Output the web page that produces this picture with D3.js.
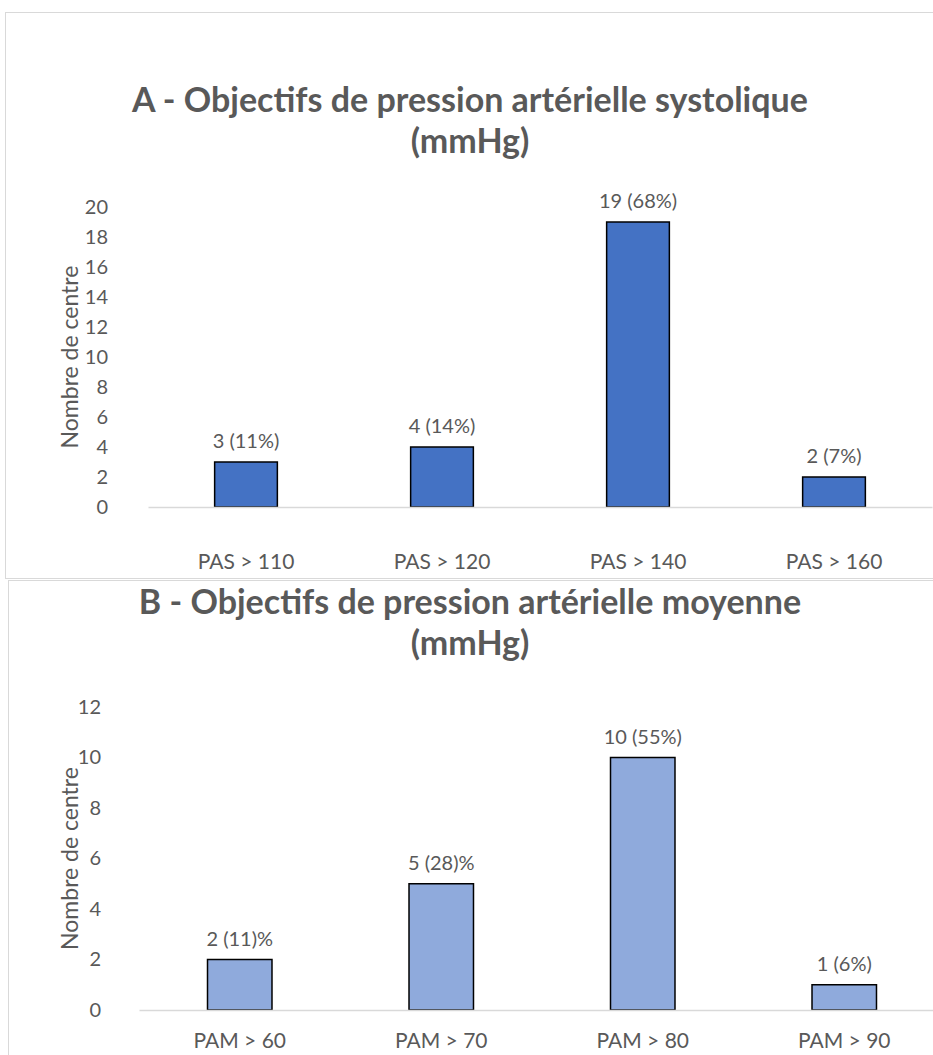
<!DOCTYPE html>
<html lang="fr">
<head>
<meta charset="UTF-8">
<title>Objectifs de pression artérielle</title>
<script src="https://cdn.jsdelivr.net/npm/d3@7"></script>
<style>
  body { margin: 0; background: #fff; }
  text { font-family: Lato, "Noto Sans", sans-serif; fill: #595959; }
</style>
</head>
<body>
<script>
// Panel A data
var catsA = ["PAS > 110", "PAS > 120", "PAS > 140", "PAS > 160"];
var valsA = [3, 4, 19, 2];
var labelsA = ["3 (11%)", "4 (14%)", "19 (68%)", "2 (7%)"];
var ticksA = [0, 2, 4, 6, 8, 10, 12, 14, 16, 18, 20];

// Panel B data
var catsB = ["PAM > 60", "PAM > 70", "PAM > 80", "PAM > 90"];
var valsB = [2, 5, 10, 1];
var labelsB = ["2 (11)%", "5 (28)%", "10 (55%)", "1 (6%)"];
var ticksB = [0, 2, 4, 6, 8, 10, 12];

var W = 933, H = 1055;
var svg = d3.select("body").append("svg")
  .attr("width", W)
  .attr("height", H);

// panel frames
svg.append("rect")
  .attr("x", 5.5).attr("y", 12.5)
  .attr("width", W).attr("height", 566)
  .attr("fill", "none").attr("stroke", "#d9d9d9");
svg.append("rect")
  .attr("x", 8.5).attr("y", 580.5)
  .attr("width", W).attr("height", 600)
  .attr("fill", "none").attr("stroke", "#d9d9d9");

function drawPanel(opt) {
  var g = svg.append("g");

  // title on two lines
  g.append("text")
    .attr("x", opt.titleX).attr("y", opt.titleY)
    .attr("text-anchor", "middle")
    .style("font-size", "34px").style("font-weight", "bold")
    .text(opt.title1);
  g.append("text")
    .attr("x", opt.titleX).attr("y", opt.titleY + 41)
    .attr("text-anchor", "middle")
    .style("font-size", "34px").style("font-weight", "bold")
    .text(opt.title2);

  var x = d3.scaleBand()
    .domain(opt.cats)
    .range([opt.x0, opt.x1])
    .padding(0);

  var y = d3.scaleLinear()
    .domain([0, opt.max])
    .range([opt.y0, opt.y1]);

  // y axis, labels only
  var yAxis = g.append("g")
    .attr("transform", "translate(" + opt.yAxisX + ",0)")
    .call(d3.axisLeft(y).tickValues(opt.ticks).tickSize(0).tickPadding(0));
  yAxis.select(".domain").remove();
  yAxis.selectAll("text")
    .style("font-size", "20px")
    .style("fill", "#595959");

  // bars
  var bw = x.bandwidth() * 0.32;
  g.selectAll("rect.bar")
    .data(opt.vals)
    .enter()
    .append("rect")
    .attr("class", "bar")
    .attr("x", function(d, i) { return x(opt.cats[i]) + x.bandwidth() / 2 - bw / 2; })
    .attr("y", function(d) { return y(d); })
    .attr("width", bw)
    .attr("height", function(d) { return y(0) - y(d); })
    .attr("fill", opt.color)
    .attr("stroke", "#000")
    .attr("stroke-width", 1.5);

  // value labels
  g.selectAll("text.val")
    .data(opt.vals)
    .enter()
    .append("text")
    .attr("class", "val")
    .attr("x", function(d, i) { return x(opt.cats[i]) + x.bandwidth() / 2; })
    .attr("y", function(d) { return y(d) - 14; })
    .attr("text-anchor", "middle")
    .style("font-size", "20px")
    .text(function(d, i) { return opt.labels[i]; });

  // x axis
  var xAxis = g.append("g")
    .attr("transform", "translate(0," + opt.y0 + ")")
    .call(d3.axisBottom(x).tickSize(0).tickPadding(opt.xPad));
  xAxis.select(".domain")
    .attr("stroke", "#d9d9d9")
    .attr("stroke-width", 1.5);
  xAxis.selectAll("text")
    .style("font-size", "21px")
    .style("fill", "#595959");

  // y axis title
  g.append("text")
    .attr("transform", "translate(" + opt.yLabelX + "," + ((opt.y0 + opt.y1) / 2) + ") rotate(-90)")
    .attr("text-anchor", "middle")
    .style("font-size", "23px")
    .text("Nombre de centre");
}

drawPanel({
  title1: "A - Objectifs de pression artérielle systolique",
  title2: "(mmHg)",
  titleX: 470, titleY: 112,
  cats: catsA, vals: valsA, labels: labelsA, ticks: ticksA,
  max: 20, x0: 148, x1: 932, y0: 507, y1: 207,
  yAxisX: 108, yLabelX: 78, xPad: 47,
  color: "#4472c4"
});

drawPanel({
  title1: "B - Objectifs de pression artérielle moyenne",
  title2: "(mmHg)",
  titleX: 470, titleY: 614,
  cats: catsB, vals: valsB, labels: labelsB, ticks: ticksB,
  max: 12, x0: 139, x1: 945, y0: 1010, y1: 707,
  yAxisX: 101, yLabelX: 78, xPad: 23,
  color: "#8faadc"
});
</script>
</body>
</html>
